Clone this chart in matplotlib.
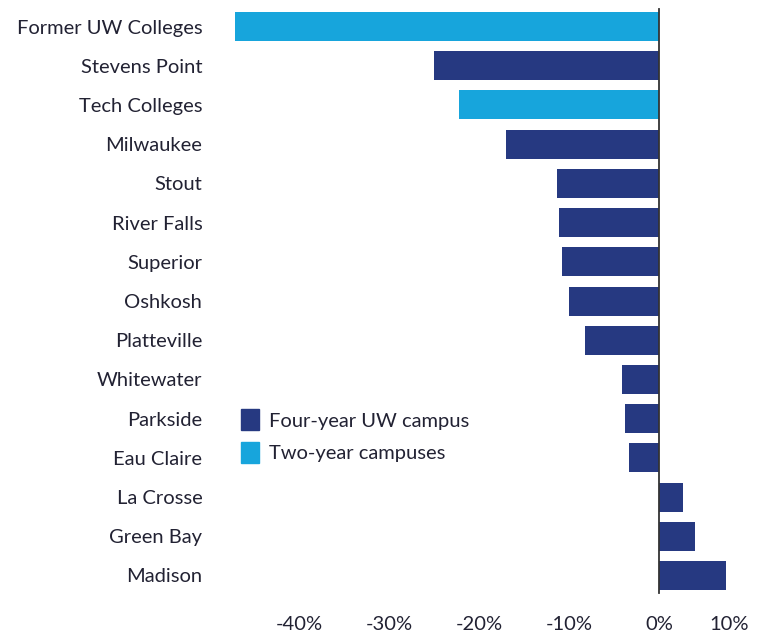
import matplotlib.pyplot as plt
from matplotlib.patches import Patch

# Data (percent change)
campuses = ["Former UW Colleges", "Stevens Point", "Tech Colleges", "Milwaukee",
            "Stout", "River Falls", "Superior", "Oshkosh", "Platteville",
            "Whitewater", "Parkside", "Eau Claire", "La Crosse", "Green Bay", "Madison"]
change = [-47.1, -25.0, -22.2, -17.0, -11.3, -11.1, -10.8, -10.0, -8.2,
          -4.1, -3.8, -3.3, 2.7, 4.0, 7.4]
campus_type = ["two", "four", "two", "four", "four", "four", "four", "four", "four",
               "four", "four", "four", "four", "four", "four"]
tick_vals = [-40, -30, -20, -10, 0, 10]
tick_labels = ["-40%", "-30%", "-20%", "-10%", "0%", "10%"]

navy = "#263981"
light = "#17a5dc"
text_col = "#222233"
fs = 14.5

plt.rcParams['font.family'] = ['Lato', 'DejaVu Sans']

fig = plt.figure(figsize=(7.57, 6.33), dpi=100)
ax = fig.add_axes([0.3058, 0.0537, 0.6896, 0.9415])

colors = [light if t == "two" else navy for t in campus_type]
ax.barh(range(len(campuses)), change, height=0.74, color=colors)
ax.axvline(0, color="#333333", lw=1.3, ymin=0.01, ymax=0.99)

ax.set_xlim(-47.5, 10.5)
ax.set_ylim(14.6, -0.6)
ax.set_yticks(range(len(campuses)))
ax.set_yticklabels(campuses, fontsize=fs, color=text_col)
ax.set_xticks(tick_vals)
ax.set_xticklabels(tick_labels, fontsize=fs, color=text_col)
ax.get_xticklabels()[-1].set_horizontalalignment('right')
ax.tick_params(axis='y', length=0, pad=21)
ax.tick_params(axis='x', length=0, pad=12)
for s in ax.spines.values():
    s.set_visible(False)

handles = [Patch(color=navy, label="Four-year UW campus"),
           Patch(color=light, label="Two-year campuses")]
fig.legend(handles=handles, loc="upper left", bbox_to_anchor=(0.305, 0.369),
           frameon=False, fontsize=fs, handlelength=0.9, handleheight=1.2,
           handletextpad=0.5, labelspacing=0.6, borderpad=0, labelcolor=text_col)

fig.savefig("out.png", dpi=100)
